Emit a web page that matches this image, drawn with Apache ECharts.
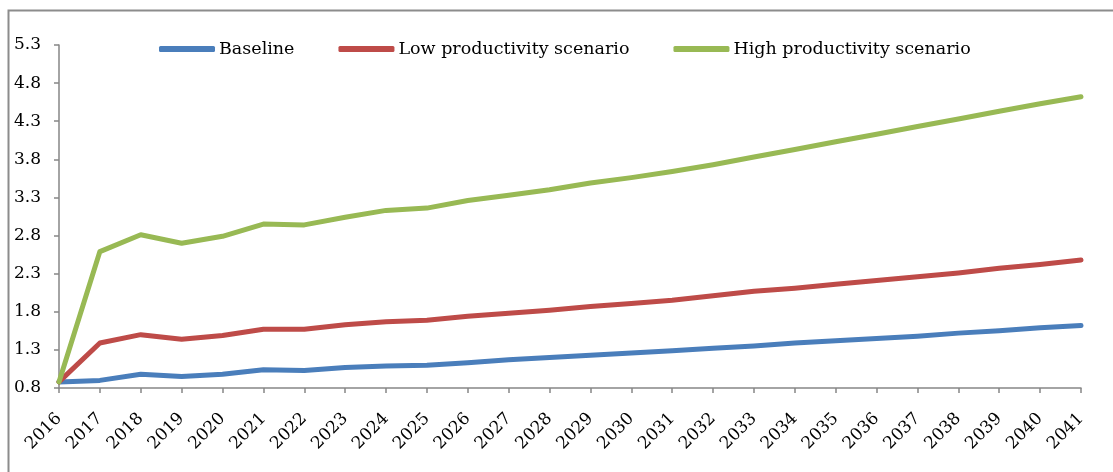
<!DOCTYPE html>
<html>
<head>
<meta charset="utf-8">
<script src="https://cdn.jsdelivr.net/npm/echarts@6/dist/echarts.min.js"></script>
<style>
  html, body { margin: 0; padding: 0; background: #fff; }
  #chart { width: 1113px; height: 472px; }
</style>
</head>
<body>
<div id="chart"></div>
<script>
var years = ['2016', '2017', '2018', '2019', '2020', '2021', '2022', '2023', '2024', '2025', '2026', '2027', '2028',
    '2029', '2030', '2031', '2032', '2033', '2034', '2035', '2036', '2037', '2038', '2039', '2040', '2041'];
var baseline = [0.88, 0.90, 0.98, 0.95, 0.98, 1.04, 1.03, 1.07, 1.09, 1.10, 1.13, 1.17, 1.20,
    1.23, 1.26, 1.29, 1.32, 1.35, 1.39, 1.42, 1.45, 1.48, 1.52, 1.55, 1.59, 1.62];
var lowProd = [0.88, 1.39, 1.50, 1.44, 1.49, 1.57, 1.57, 1.63, 1.67, 1.69, 1.74, 1.78, 1.82,
    1.87, 1.91, 1.95, 2.01, 2.07, 2.11, 2.16, 2.21, 2.26, 2.31, 2.37, 2.42, 2.48];
var highProd = [0.88, 2.59, 2.81, 2.70, 2.79, 2.95, 2.94, 3.04, 3.13, 3.16, 3.26, 3.33, 3.40,
    3.49, 3.56, 3.64, 3.73, 3.83, 3.93, 4.03, 4.13, 4.23, 4.33, 4.43, 4.53, 4.62];
var seriesNames = ['Baseline', 'Low productivity scenario', 'High productivity scenario'];
var colors = ['#4A7EBB', '#BE4B48', '#98B954'];

var myChart = echarts.init(document.getElementById('chart'));
var font = 'DejaVu Serif';

function makeLine(name, data, color) {
    return {
        name: name,
        type: 'line',
        data: data,
        symbol: 'none',
        lineStyle: { width: 5, color: color, cap: 'round', join: 'round' },
        itemStyle: { color: color }
    };
}

var option = {
    animation: false,
    textStyle: { fontFamily: font },
    // the outer chart-area frame (only top and left edges show)
    graphic: [{
        type: 'rect',
        shape: { x: 8.5, y: 10.5, width: 1200, height: 600 },
        style: { fill: 'none', stroke: '#8c8c8c', lineWidth: 2 },
        silent: true
    }],
    legend: {
        data: seriesNames,
        top: 35,
        left: 154,
        icon: 'roundRect',
        itemWidth: 56,
        itemHeight: 6,
        itemGap: 44,
        textStyle: { fontFamily: font, fontSize: 17.5, color: '#000', padding: [0, 0, 0, -1] }
    },
    grid: { left: 59, right: 32, top: 45, bottom: 84 },
    xAxis: {
        type: 'category',
        data: years,
        boundaryGap: false,
        axisLine: { lineStyle: { color: '#868686', width: 1.5 } },
        axisTick: { show: true, length: 5, lineStyle: { color: '#868686', width: 1.5 } },
        axisLabel: { rotate: 45, margin: 28, interval: 0, fontFamily: font, fontSize: 17, color: '#000' }
    },
    yAxis: {
        type: 'value',
        min: 0.8,
        max: 5.3,
        interval: 0.5,
        splitLine: { show: false },
        axisLine: { show: true, lineStyle: { color: '#868686', width: 1.5 } },
        axisTick: { show: true, length: 5, lineStyle: { color: '#868686', width: 1.5 } },
        axisLabel: {
            margin: 18, fontFamily: font, fontSize: 17, color: '#000',
            formatter: function (v) { return v.toFixed(1); }
        }
    },
    series: [
        makeLine(seriesNames[0], baseline, colors[0]),
        makeLine(seriesNames[1], lowProd, colors[1]),
        makeLine(seriesNames[2], highProd, colors[2])
    ]
};
myChart.setOption(option);
</script>
</body>
</html>
